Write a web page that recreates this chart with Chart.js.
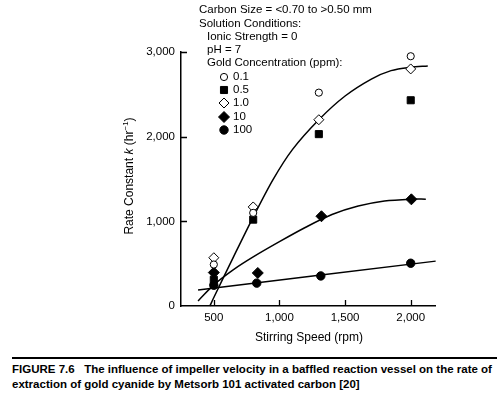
<!DOCTYPE html>
<html>
<head>
<meta charset="utf-8">
<script src="https://cdn.jsdelivr.net/npm/chart.js@4.4.1/dist/chart.umd.min.js"></script>
<style>
  body { margin: 0; background: #fff; }
  #wrap { position: relative; width: 497px; height: 395px; font-family: "Liberation Sans", Arial, sans-serif; }
  #chartBox { position: absolute; left: 0; top: 0; width: 497px; height: 350px; }
  #rule { position: absolute; left: 12px; right: 0; top: 357px; height: 2px; background: #000; }
  #caption { position: absolute; left: 12px; top: 362px; width: 490px; font-weight: bold; font-size: 11.5px; line-height: 15px; color: #000; white-space: nowrap; }
</style>
</head>
<body>
<div id="wrap">
  <div id="chartBox"><canvas id="rateChart" width="497" height="350"></canvas></div>
  <div id="rule"></div>
  <div id="caption">FIGURE 7.6&nbsp;&nbsp;&nbsp;The influence of impeller velocity in a baffled reaction vessel on the rate of<br>extraction of gold cyanide by Metsorb 101 activated carbon [20]</div>
</div>
<script>
// measured points (stirring speed rpm, rate constant k)
const rpm01 = [500, 800, 1300, 2000];
const k01 = [490, 1100, 2520, 2950];
const rpm05 = [500, 800, 1300, 2000];
const k05 = [310, 1020, 2030, 2430];
const rpm10 = [500, 800, 1300, 2000];
const k10 = [570, 1170, 2200, 2800];
const rpm10ppm = [500, 835, 1320, 2005];
const k10ppm = [395, 390, 1060, 1260];
const rpm100 = [500, 827, 1315, 2000];
const k100 = [245, 270, 355, 505];

// fitted curves
const fitLowRpm = [470, 500, 650, 800, 950, 1100, 1300, 1500, 1700, 1850, 2000, 2130];
const fitLowK = [0, 100, 580, 1050, 1490, 1850, 2200, 2480, 2680, 2780, 2820, 2835];
const fit10Rpm = [380, 500, 650, 800, 1000, 1200, 1400, 1600, 1800, 2000, 2115];
const fit10K = [60, 250, 430, 580, 760, 930, 1080, 1180, 1240, 1262, 1262];
const fit100Rpm = [380, 2190];
const fit100K = [190, 530];

const xTicks = [500, 1000, 1500, 2000];
const yTicks = [0, 1000, 2000, 3000];
const concLabels = ["0.1", "0.5", "1.0", "10", "100"];

const headerLines = [
  "Carbon Size = <0.70 to >0.50 mm",
  "Solution Conditions:",
  "  Ionic Strength = 0",
  "  pH = 7",
  "  Gold Concentration (ppm):"
];

const pts = (xs, ys) => xs.map((x, i) => ({ x: x, y: ys[i] }));
const FONT = '"Liberation Sans", Arial, sans-serif';

const markerSets = [
  { label: concLabels[0], data: pts(rpm01, k01), pointStyle: "circle", pointRadius: 3.6, pointBackgroundColor: "#fff", pointBorderColor: "#000", pointBorderWidth: 1 },
  { label: concLabels[1], data: pts(rpm05, k05), pointStyle: "rect", pointRadius: 5, pointBackgroundColor: "#000", pointBorderColor: "#000", pointBorderWidth: 1 },
  { label: concLabels[2], data: pts(rpm10, k10), pointStyle: "rectRot", pointRadius: 5, pointBackgroundColor: "#fff", pointBorderColor: "#000", pointBorderWidth: 1 },
  { label: concLabels[3], data: pts(rpm10ppm, k10ppm), pointStyle: "rectRot", pointRadius: 5.5, pointBackgroundColor: "#000", pointBorderColor: "#000", pointBorderWidth: 1 },
  { label: concLabels[4], data: pts(rpm100, k100), pointStyle: "circle", pointRadius: 4.2, pointBackgroundColor: "#000", pointBorderColor: "#000", pointBorderWidth: 1 }
].map(d => Object.assign(d, { type: "scatter", showLine: false, clip: false, order: 1 }));

const curveSets = [
  [fitLowRpm, fitLowK],
  [fit10Rpm, fit10K],
  [fit100Rpm, fit100K]
].map(([xs, ys]) => ({
  type: "line",
  label: "fit",
  data: pts(xs, ys),
  borderColor: "#000",
  borderWidth: 1.5,
  pointRadius: 0,
  tension: 0.3,
  fill: false,
  clip: false,
  order: 2
}));

// inward ticks, axis titles and the conditions block
const decorations = {
  id: "decorations",
  afterDraw(chart) {
    const ctx = chart.ctx;
    const xs = chart.scales.x, ys = chart.scales.y;
    const area = chart.chartArea;
    ctx.save();
    ctx.strokeStyle = "#000";
    ctx.lineWidth = 1.3;
    ctx.beginPath();
    xTicks.forEach(v => {
      const px = Math.round(xs.getPixelForValue(v)) + 0.5;
      ctx.moveTo(px, area.bottom);
      ctx.lineTo(px, area.bottom - 6);
    });
    yTicks.slice(1).forEach(v => {
      const py = Math.round(ys.getPixelForValue(v)) + 0.5;
      ctx.moveTo(area.left, py);
      ctx.lineTo(area.left + 6, py);
    });
    ctx.stroke();

    ctx.fillStyle = "#000";
    ctx.textBaseline = "middle";

    // x title
    ctx.font = "12px " + FONT;
    ctx.textAlign = "center";
    ctx.fillText("Stirring Speed (rpm)", 309, 338);

    // y title with italic k and superscript
    ctx.save();
    ctx.translate(130, 176);
    ctx.rotate(-Math.PI / 2);
    const parts = [
      { t: "Rate Constant ", f: "12px " + FONT, dy: 0 },
      { t: "k", f: "italic 12px " + FONT, dy: 0 },
      { t: " (hr", f: "12px " + FONT, dy: 0 },
      { t: "\u22121", f: "8px " + FONT, dy: -4 },
      { t: ")", f: "12px " + FONT, dy: 0 }
    ];
    let total = 0;
    parts.forEach(p => { ctx.font = p.f; p.w = ctx.measureText(p.t).width; total += p.w; });
    let cx = -total / 2;
    ctx.textAlign = "left";
    parts.forEach(p => { ctx.font = p.f; ctx.fillText(p.t, cx, p.dy); cx += p.w; });
    ctx.restore();

    // conditions block
    ctx.font = "11.5px " + FONT;
    ctx.textAlign = "left";
    const rows = [10, 24, 37, 50, 63];
    headerLines.forEach((line, i) => {
      const indent = line.startsWith("  ") ? 8 : 0;
      ctx.fillText(line.trim(), 199 + indent, rows[i]);
    });
    const itemRows = [77, 90, 103, 117, 130];
    markerSets.forEach((ds, i) => {
      const opts = {
        pointStyle: ds.pointStyle,
        radius: ds.pointRadius,
        rotation: 0,
        borderWidth: ds.pointBorderWidth
      };
      ctx.fillStyle = ds.pointBackgroundColor;
      ctx.strokeStyle = ds.pointBorderColor;
      ctx.lineWidth = ds.pointBorderWidth;
      Chart.helpers.drawPoint(ctx, opts, 224, itemRows[i]);
      ctx.fillStyle = "#000";
      ctx.fillText(ds.label, 233, itemRows[i]);
    });
    ctx.restore();
  }
};

new Chart(document.getElementById("rateChart"), {
  data: { datasets: [...curveSets, ...markerSets] },
  options: {
    responsive: false,
    animation: false,
    layout: { padding: { top: 52, right: 62, left: 0, bottom: 0 } },
    plugins: { legend: { display: false }, tooltip: { enabled: false } },
    scales: {
      x: {
        type: "linear",
        min: 250,
        max: 2185,
        afterFit: s => { s.height = 44; },
        afterBuildTicks: s => { s.ticks = xTicks.map(v => ({ value: v })); },
        grid: { display: false, drawTicks: false },
        border: { display: true, color: "#000", width: 1.5 },
        ticks: {
          color: "#000",
          font: { family: FONT, size: 11.5 },
          padding: 5,
          maxRotation: 0,
          callback: v => v.toLocaleString("en-US")
        }
      },
      y: {
        type: "linear",
        min: 0,
        max: 3000,
        afterFit: s => { s.width = 181; },
        afterBuildTicks: s => { s.ticks = yTicks.map(v => ({ value: v })); },
        grid: { display: false, drawTicks: false },
        border: { display: true, color: "#000", width: 1.5 },
        ticks: {
          color: "#000",
          font: { family: FONT, size: 11.5 },
          padding: 6,
          callback: v => v.toLocaleString("en-US")
        }
      }
    }
  },
  plugins: [decorations]
});
</script>
</body>
</html>
